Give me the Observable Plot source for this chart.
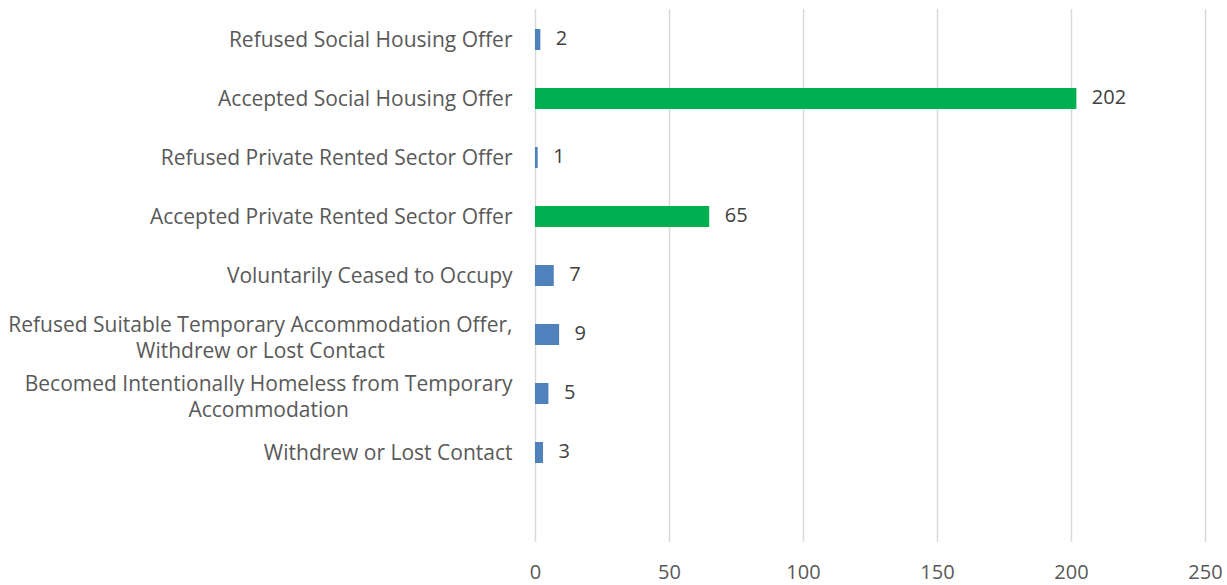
<!DOCTYPE html>
<html>
<head>
<meta charset="utf-8">
<script src="https://cdn.jsdelivr.net/npm/d3@7"></script>
<script src="https://cdn.jsdelivr.net/npm/@observablehq/plot@0.6"></script>
<style>
  html, body { margin: 0; padding: 0; background: #fff; }
  #chart svg { display: block; }
</style>
</head>
<body>
<div id="chart"></div>
<script>
const categories = [
  "Refused Social Housing Offer",
  "Accepted Social Housing Offer",
  "Refused Private Rented Sector Offer",
  "Accepted Private Rented Sector Offer",
  "Voluntarily Ceased to Occupy",
  "Refused Suitable Temporary Accommodation Offer,\nWithdrew or Lost Contact",
  "Becomed Intentionally Homeless from Temporary\nAccommodation",
  "Withdrew or Lost Contact"
];
const values = [2, 202, 1, 65, 7, 9, 5, 3];
const highlighted = ["Accepted Social Housing Offer", "Accepted Private Rented Sector Offer"];
const xTicks = [0, 50, 100, 150, 200, 250];

const data = categories.map((c, i) => ({category: c, value: values[i]}));
const singleLine = data.filter(d => !d.category.includes("\n"));
const multiLine = data.filter(d => d.category.includes("\n"));
const yDomain = [...categories, ""];

const labelOpts = {y: "category", text: "category", frameAnchor: "left", dx: -23, textAnchor: "end", fill: "#595959", fontSize: 21, lineHeight: 1.24, className: "ylab"};

const chart = Plot.plot({
  width: 1227,
  height: 585,
  marginLeft: 535,
  marginRight: 22,
  marginTop: 9,
  marginBottom: 43,
  style: {fontFamily: "'Open Sans', sans-serif", background: "#fff"},
  x: {domain: [0, 250], axis: null},
  y: {domain: yDomain, axis: null, paddingInner: 0.64, paddingOuter: 0.32},
  marks: [
    Plot.ruleX(xTicks, {stroke: "#d9d9d9", strokeWidth: 1.5}),
    Plot.text(xTicks, {x: d => d, frameAnchor: "bottom", dy: 36, text: d => String(d), fill: "#595959", fontSize: 20}),
    Plot.barX(data, {
      y: "category", x: "value",
      fill: d => highlighted.includes(d.category) ? "#00B050" : "#4F81BD"
    }),
    Plot.text(data, {x: "value", y: "category", text: d => String(d.value), dx: 15, dy: -1, textAnchor: "start", fill: "#404040", fontSize: 20}),
    Plot.text(singleLine, {...labelOpts, dy: -1}),
    Plot.text(multiLine, {...labelOpts, dy: 2})
  ]
});
document.getElementById("chart").appendChild(chart);

// center shorter lines of multi-line labels under the longest line
chart.querySelectorAll("g.ylab text").forEach(t => {
  const spans = t.querySelectorAll("tspan");
  if (spans.length < 2) return;
  const lens = Array.from(spans, s => s.getComputedTextLength());
  const max = Math.max(...lens);
  spans.forEach((s, i) => {
    const shift = (max - lens[i]) / 2;
    if (shift > 0) s.setAttribute("x", (parseFloat(s.getAttribute("x") || 0) - shift));
  });
});
</script>
</body>
</html>
